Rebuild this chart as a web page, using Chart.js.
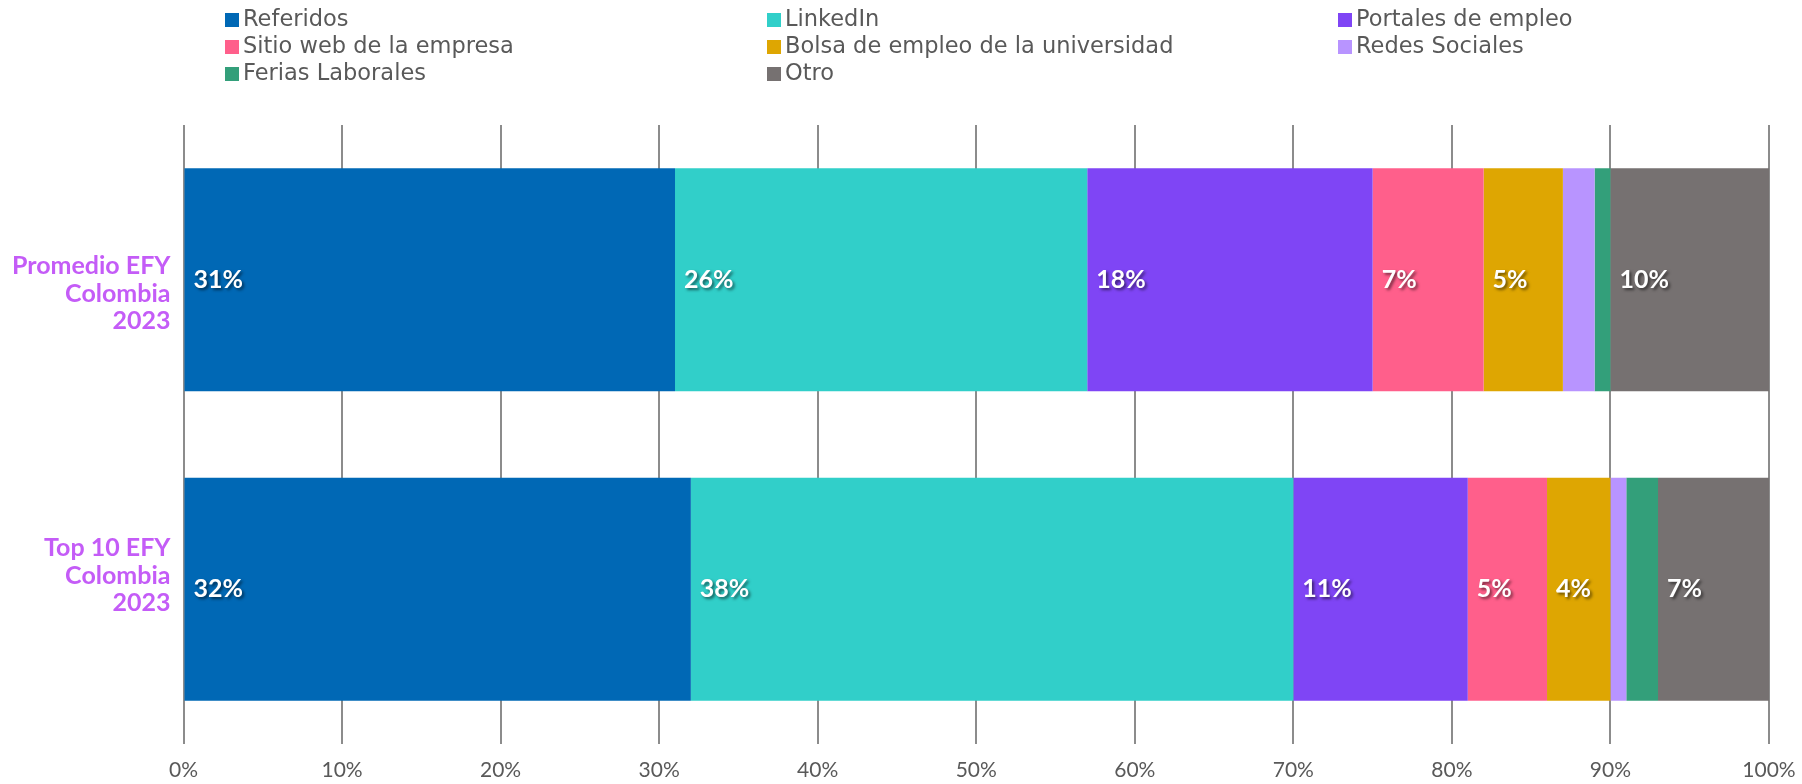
<!DOCTYPE html>
<html>
<head>
<meta charset="utf-8">
<script src="https://cdn.jsdelivr.net/npm/chart.js@4.4.0/dist/chart.umd.min.js"></script>
<style>
    html, body { margin: 0; padding: 0; background: #fff; }
    #wrap { position: relative; width: 1802px; height: 784px; }
    #chart { position: absolute; left: 0; top: 0; }
    #legend { position: absolute; left: 0; top: 0; width: 1802px; height: 90px;
              font-family: "DejaVu Sans", sans-serif; font-size: 22.5px; color: #595959; }
    .item { position: absolute; white-space: nowrap; height: 27px; line-height: 27px; }
    .box { display: inline-block; width: 14px; height: 14px; margin-right: 4px; vertical-align: -1px; }
</style>
</head>
<body>
<div id="wrap">
    <canvas id="chart" width="1802" height="784"></canvas>
    <div id="legend"></div>
</div>
<script>
// Categories (blank line pads the label toward the middle, like the original)
const categories = [
    ['', 'Promedio EFY', 'Colombia', '2023'],
    ['Top 10 EFY', 'Colombia', '2023', '']
];

// Series names
const seriesNames = [
    'Referidos', 'LinkedIn', 'Portales de empleo', 'Sitio web de la empresa',
    'Bolsa de empleo de la universidad', 'Redes Sociales', 'Ferias Laborales', 'Otro'
];

// Series values (%), one per category
const referidos = [31, 32];
const linkedin = [26, 38];
const portales = [18, 11];
const sitioWeb = [7, 5];
const bolsa = [5, 4];
const redes = [2, 1];
const ferias = [1, 2];
const otro = [10, 7];

// Axis ticks
const xTicks = [0, 10, 20, 30, 40, 50, 60, 70, 80, 90, 100];

const seriesValues = [referidos, linkedin, portales, sitioWeb, bolsa, redes, ferias, otro];
const colors = ['#0068b5', '#31cfc9', '#7f45f5', '#ff5f8b', '#dea602', '#b894ff', '#339f7a', '#767171'];

// Legend (3 columns)
const legendCols = [225, 767, 1338];
const legendRows = [5, 32, 59];
const legendDiv = document.getElementById('legend');
seriesNames.forEach((name, i) => {
    const item = document.createElement('div');
    item.className = 'item';
    item.style.left = legendCols[i % 3] + 'px';
    item.style.top = legendRows[Math.floor(i / 3)] + 'px';
    item.innerHTML = `<span class="box" style="background:${colors[i]}"></span>${name}`;
    legendDiv.appendChild(item);
});

// Segment labels drawn at the left of each segment
const segLabels = {
    id: 'segLabels',
    afterDatasetsDraw(chart) {
        const ctx = chart.ctx;
        ctx.save();
        ctx.font = 'bold 25px Lato';
        ctx.textAlign = 'left';
        ctx.textBaseline = 'middle';
        ctx.fillStyle = '#ffffff';
        ctx.shadowColor = 'rgba(0,0,0,0.55)';
        ctx.shadowOffsetX = 2;
        ctx.shadowOffsetY = 2;
        ctx.shadowBlur = 3;
        chart.data.datasets.forEach((ds, i) => {
            const meta = chart.getDatasetMeta(i);
            meta.data.forEach((bar, j) => {
                const v = ds.data[j];
                if (v < 3) return;
                const p = bar.getProps(['x', 'y', 'base'], true);
                const left = Math.min(p.x, p.base);
                ctx.fillText(v + '%', left + 9, p.y);
            });
        });
        ctx.restore();
    }
};

new Chart(document.getElementById('chart'), {
    type: 'bar',
    data: {
        labels: categories,
        datasets: seriesNames.map((name, i) => ({
            label: name,
            data: seriesValues[i],
            backgroundColor: colors[i],
            borderWidth: 0,
            categoryPercentage: 1,
            barPercentage: 0.72
        }))
    },
    options: {
        indexAxis: 'y',
        responsive: false,
        animation: false,
        layout: { padding: { top: 125, right: 33, bottom: 0, left: 0 } },
        plugins: {
            legend: { display: false },
            tooltip: { enabled: false }
        },
        scales: {
            x: {
                stacked: true,
                min: 0,
                max: 100,
                afterBuildTicks: (scale) => { scale.ticks = xTicks.map(v => ({ value: v })); },
                afterFit: (scale) => {
                    scale.height = 40;
                    scale.paddingLeft = 0;
                    scale.paddingRight = 0;
                },
                grid: { color: '#8c8c8c', lineWidth: 2, drawTicks: false },
                border: { display: false },
                ticks: {
                    padding: 14,
                    color: '#595959',
                    font: { family: 'Lato', size: 21 },
                    callback: (v) => v + '%'
                }
            },
            y: {
                stacked: true,
                afterFit: (scale) => {
                    scale.width = 183.5;
                    scale.paddingTop = 0;
                    scale.paddingBottom = 0;
                },
                grid: { display: false, drawTicks: false },
                border: { display: false },
                ticks: {
                    padding: 13,
                    color: '#c45cf7',
                    font: { family: 'Lato', size: 25, weight: 'bold', lineHeight: 1.1 }
                }
            }
        }
    },
    plugins: [segLabels]
});
</script>
</body>
</html>
